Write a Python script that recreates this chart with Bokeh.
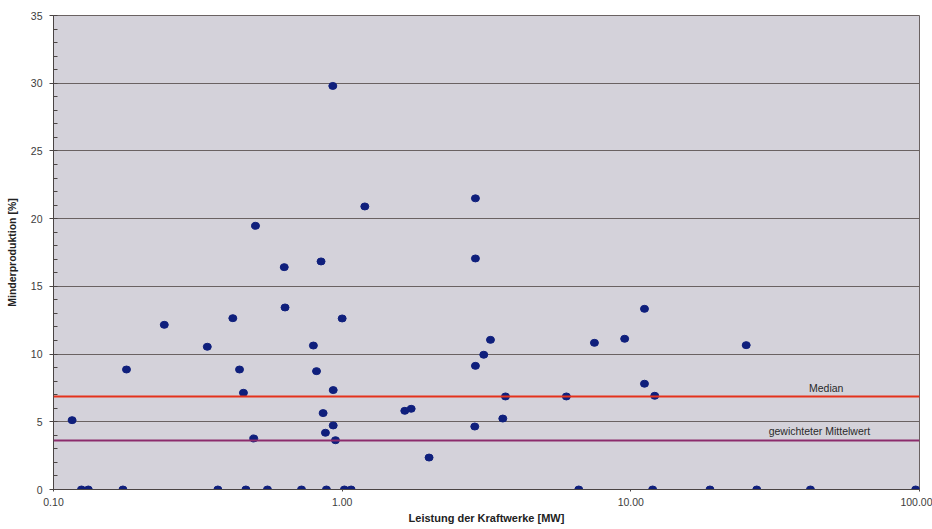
from bokeh.plotting import figure
from bokeh.models import FixedTicker, PrintfTickFormatter, Span, Label, ColumnDataSource
from bokeh.embed import file_html
from bokeh.resources import INLINE

# Data: installed capacity [MW] and production shortfall [%]
leistung_mw = [
    0.125, 0.132, 0.174, 0.371, 0.464, 0.551, 0.723, 0.882, 1.018, 1.074,
    6.60, 11.9, 18.8, 27.3, 41.9, 97.0,
    0.116, 0.179, 0.242, 0.341, 0.418, 0.441, 0.455, 0.494, 0.501, 0.630,
    0.634, 0.795, 0.815, 0.845, 0.859, 0.875, 0.928, 0.931, 0.931, 0.948,
    1.00, 1.198, 1.648, 1.734, 2.00, 2.88, 2.895, 2.895, 2.895, 3.094,
    3.264, 3.601, 3.679, 5.98, 7.48, 9.52, 11.15, 11.15, 12.1, 25.1,
]
minderproduktion = [
    0, 0, 0, 0, 0, 0, 0, 0, 0, 0,
    0, 0, 0, 0, 0, 0,
    5.12, 8.86, 12.16, 10.54, 12.65, 8.86, 7.14, 3.77, 19.47, 16.42,
    13.44, 10.63, 8.74, 16.84, 5.64, 4.19, 29.8, 7.34, 4.73, 3.64,
    12.63, 20.9, 5.81, 5.96, 2.36, 4.65, 9.13, 17.06, 21.5, 9.95,
    11.05, 5.24, 6.87, 6.87, 10.83, 11.13, 13.34, 7.81, 6.92, 10.66,
]

median_wert = 6.87
gewichteter_mittelwert = 3.62

x_ticks = [0.1, 1, 10, 100]
y_ticks = [0, 5, 10, 15, 20, 25, 30, 35]
y_minor_ticks = list(range(0, 36))

# label anchors (data coords)
median_label_pos = (47.5, 7.5)
mittel_label_pos = (45.0, 4.35)

FONT = "Liberation Sans"

p = figure(
    width=932, height=529,
    x_axis_type="log",
    x_range=(0.1, 100), y_range=(0, 35),
    output_backend="svg", toolbar_location=None,
    min_border_left=53, min_border_right=13, min_border_top=15, min_border_bottom=40,
    background_fill_color="#d4d2da", border_fill_color="white",
)

p.outline_line_color = "#6a6262"
p.outline_line_width = 1

# grid
p.xgrid.visible = False
p.ygrid.ticker = FixedTicker(ticks=y_ticks[1:-1])
p.ygrid.grid_line_color = "#6a6262"
p.ygrid.grid_line_width = 1

# x axis
p.xaxis.ticker = FixedTicker(ticks=x_ticks, minor_ticks=[])
p.xaxis.formatter = PrintfTickFormatter(format="%.2f")
p.xaxis.axis_label = "Leistung der Kraftwerke [MW]"
p.xaxis.major_tick_in = 0
p.xaxis.major_tick_out = 2
p.xaxis.major_label_standoff = 6
p.xaxis.axis_label_standoff = 3

# y axis
p.yaxis.ticker = FixedTicker(ticks=y_ticks, minor_ticks=y_minor_ticks)
p.yaxis.axis_label = "Minderproduktion [%]"
p.yaxis.major_tick_in = 0
p.yaxis.major_tick_out = 4
p.yaxis.minor_tick_in = 4
p.yaxis.minor_tick_out = 0
p.yaxis.major_label_standoff = 7
p.yaxis.axis_label_standoff = 10

for ax in (p.xaxis[0], p.yaxis[0]):
    ax.axis_line_color = "#4a4444"
    ax.major_tick_line_color = "#4a4444"
    ax.minor_tick_line_color = "#4a4444"
    ax.major_label_text_font = FONT
    ax.major_label_text_font_size = "10.5px"
    ax.major_label_text_color = "#3c3c3c"
    ax.axis_label_text_font = FONT
    ax.axis_label_text_font_style = "bold"
    ax.axis_label_text_color = "#222222"

p.xaxis.axis_label_text_font_size = "11px"
p.yaxis.axis_label_text_font_size = "10.5px"

# reference lines
p.add_layout(Span(location=median_wert, dimension="width",
                  line_color="#e4321c", line_width=2))
p.add_layout(Span(location=gewichteter_mittelwert, dimension="width",
                  line_color="#8c2c6c", line_width=2))

# points
src = ColumnDataSource(dict(x=leistung_mw, y=minderproduktion))
p.ellipse(x="x", y="y", width=8, height=7, width_units="screen", height_units="screen",
          fill_color="#0f1f7c", line_color="#0f1f7c", source=src)

p.add_layout(Label(x=median_label_pos[0], y=median_label_pos[1], text="Median",
                   text_align="center", text_baseline="middle",
                   text_font=FONT, text_font_size="10.5px", text_color="#2a2a2a"))
p.add_layout(Label(x=mittel_label_pos[0], y=mittel_label_pos[1], text="gewichteter Mittelwert",
                   text_align="center", text_baseline="middle",
                   text_font=FONT, text_font_size="10.5px", text_color="#2a2a2a"))

open("out.html", "w").write(file_html(p, INLINE))
